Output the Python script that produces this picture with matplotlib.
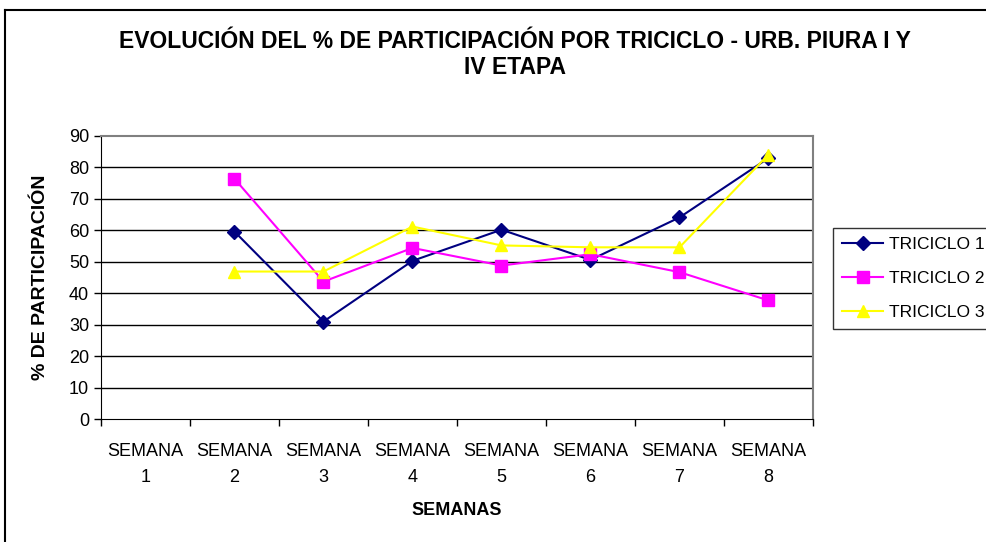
import numpy as np
import matplotlib
matplotlib.use("Agg")
import matplotlib.pyplot as plt
from matplotlib.lines import Line2D

plt.rcParams['font.family'] = ['Liberation Sans', 'DejaVu Sans']

semanas = ["SEMANA\n1", "SEMANA\n2", "SEMANA\n3", "SEMANA\n4",
           "SEMANA\n5", "SEMANA\n6", "SEMANA\n7", "SEMANA\n8"]
triciclo1 = [np.nan, 59.6, 31.0, 50.3, 60.2, 50.6, 64.1, 83.0]
triciclo2 = [np.nan, 76.4, 43.7, 54.4, 48.8, 52.4, 46.7, 37.7]
triciclo3 = [np.nan, 46.9, 46.9, 61.2, 55.2, 54.6, 54.6, 84.1]

W, H = 987, 542
fig = plt.figure(figsize=(W / 100, H / 100), dpi=100)
ax = fig.add_axes([101 / W, 1 - 419 / H, (813 - 101) / W, (419 - 136) / H])

x = np.arange(1, 9)
ax.plot(x, triciclo1, color='#000080', marker='D', markersize=7, lw=1.5, label='TRICICLO 1')
ax.plot(x, triciclo2, color='#FF00FF', marker='s', markersize=8, lw=1.5, label='TRICICLO 2')
ax.plot(x, triciclo3, color='#FFFF00', marker='^', markersize=9, lw=1.5, label='TRICICLO 3')

ax.set_xlim(0.5, 8.5)
ax.set_ylim(0, 90)
ax.set_yticks(range(0, 91, 10))
ax.set_xticks(x)
ax.set_xticklabels(semanas, fontsize=13, linespacing=1.7)
ax.set_xticks(np.arange(0.5, 9, 1), minor=True)
ax.tick_params(axis='x', which='major', length=0, pad=17)
ax.tick_params(axis='x', which='minor', length=5, direction='out', width=1)
ax.tick_params(axis='y', length=5, direction='out', labelsize=13, width=1)

for v in range(10, 90, 10):
    ax.axhline(v, color='black', lw=1, zorder=0)

ax.spines['top'].set_color('#808080')
ax.spines['right'].set_color('#808080')
ax.spines['top'].set_linewidth(1.5)
ax.spines['right'].set_linewidth(1.5)

ax.set_xlabel('SEMANAS', fontsize=13, fontweight='bold', labelpad=12)
ax.set_ylabel('% DE PARTICIPACIÓN', fontsize=14, fontweight='bold', labelpad=14)

fig.text(0.5 * (118 + 912) / W, 1 - 41 / H,
         'EVOLUCIÓN DEL % DE PARTICIPACIÓN POR TRICICLO - URB. PIURA I Y',
         ha='center', va='center', fontsize=16.5, fontweight='bold')
fig.text(0.5 * (118 + 912) / W, 1 - 67 / H, 'IV ETAPA',
         ha='center', va='center', fontsize=16.5, fontweight='bold')

leg = fig.legend(loc='upper left', bbox_to_anchor=(833 / W, 1 - 228 / H),
                 fontsize=12.5, frameon=True, fancybox=False, edgecolor='black',
                 handlelength=2.4, handletextpad=0.3, borderpad=0.5,
                 borderaxespad=0, labelspacing=1.1)
leg.get_frame().set_linewidth(1)

fig.add_artist(Line2D([5 / W, 5 / W], [0, 1 - 10 / H], color='black', lw=1.5, transform=fig.transFigure))
fig.add_artist(Line2D([5 / W, 1], [1 - 10 / H, 1 - 10 / H], color='black', lw=1.5, transform=fig.transFigure))

fig.savefig('out.png', dpi=100)
